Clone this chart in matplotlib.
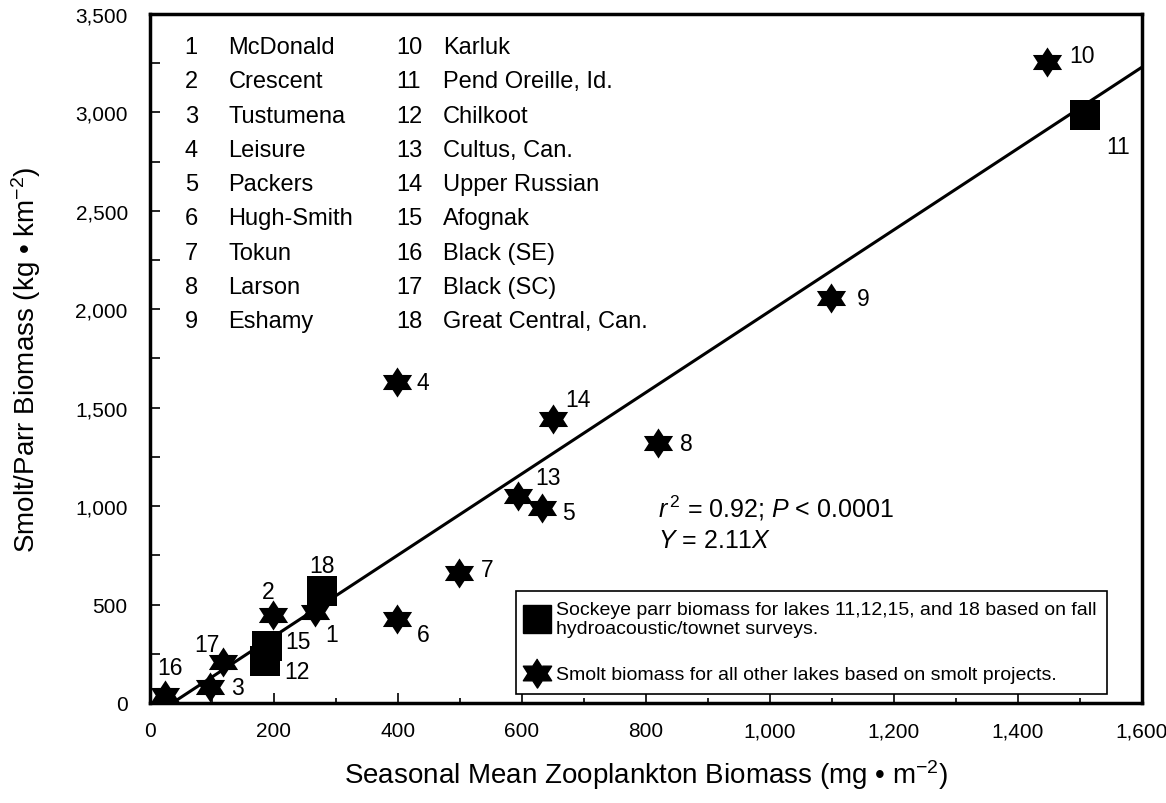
import numpy as np
import matplotlib
matplotlib.use("Agg")
import matplotlib.pyplot as plt
from matplotlib.lines import Line2D
from matplotlib.ticker import MultipleLocator, FuncFormatter

plt.rcParams["font.family"] = ["Liberation Sans", "DejaVu Sans"]
plt.rcParams["mathtext.fontset"] = "custom"
plt.rcParams["mathtext.rm"] = "Liberation Sans"
plt.rcParams["mathtext.it"] = "Liberation Sans:italic"

# lake data
lake_ids = list(range(1, 19))
lake_names = ["McDonald", "Crescent", "Tustumena", "Leisure", "Packers", "Hugh-Smith",
              "Tokun", "Larson", "Eshamy", "Karluk", "Pend Oreille, Id.", "Chilkoot",
              "Cultus, Can.", "Upper Russian", "Afognak", "Black (SE)", "Black (SC)",
              "Great Central, Can."]
zoop = [266, 198, 97, 398, 632, 398, 498, 820, 1098, 1447, 1508, 185, 594, 650, 189, 24, 118, 277]
smolt = [463, 448, 81, 1630, 992, 427, 661, 1320, 2055, 3255, 2985, 214, 1053, 1445, 290, 41, 209, 570]
parr_lakes = [11, 12, 15, 18]

# fitted line as drawn
fit_x = [36, 1600]
fit_y = [0, 3230]

# label offsets (pixels) for the point numbers
label_off = {1: (17, -23), 2: (-5, 23), 3: (27, 0), 4: (26, 0), 5: (27, -5), 6: (26, -16),
             7: (28, 3), 8: (28, 0), 9: (32, 0), 10: (35, 7), 11: (33, -31), 12: (32, -11),
             13: (30, 18), 14: (25, 19), 15: (31, 4), 16: (5, 27), 17: (-16, 17), 18: (0, 25)}

# six pointed star marker
ang = np.deg2rad(np.arange(12) * 30 + 90)
rad = np.where(np.arange(12) % 2 == 0, 1.0, 0.58)
star = np.column_stack([1.12 * rad * np.cos(ang), rad * np.sin(ang)])

fig = plt.figure(figsize=(11.66, 8.04), dpi=100)
ax = fig.add_axes([0.12864, 0.12438, 0.85077, 0.85697])

ax.plot(fit_x, fit_y, color="black", lw=2.2, zorder=2, solid_capstyle="butt")

is_parr = np.array([i in parr_lakes for i in lake_ids])
zx = np.array(zoop)
zy = np.array(smolt)
ax.scatter(zx[~is_parr], zy[~is_parr], marker=star, s=470, c="black", linewidths=0, zorder=3)
ax.scatter(zx[is_parr], zy[is_parr], marker="s", s=467, c="black", linewidths=0, zorder=3)

for i, x, y in zip(lake_ids, zoop, smolt):
    dx, dy = label_off[i]
    ax.annotate(str(i), (x, y), xytext=(dx, dy), textcoords="offset pixels",
                ha="center", va="center", fontsize=16.5)

# lake list
for k, (i, name) in enumerate(zip(lake_ids, lake_names)):
    col = k // 9
    row = k % 9
    yy = 0.952 - row * 0.0497
    xn = 0.035 if col == 0 else 0.248
    xt = 0.079 if col == 0 else 0.295
    ax.text(xn, yy, str(i), transform=ax.transAxes, fontsize=17, va="center", ha="left")
    ax.text(xt, yy, name, transform=ax.transAxes, fontsize=17, va="center", ha="left")

ax.text(0.512, 0.2845, r"$\mathit{r}^{\,2}$ = 0.92; $\mathit{P}$ < 0.0001", transform=ax.transAxes,
        fontsize=18, va="center", ha="left")
ax.text(0.512, 0.2366, r"$\mathit{Y}$ = 2.11$\mathit{X}$", transform=ax.transAxes,
        fontsize=18, va="center", ha="left")

handles = [Line2D([], [], marker="s", color="black", ls="none", markersize=20),
           Line2D([], [], marker=star, color="black", ls="none", markersize=21)]
labels = ["Sockeye parr biomass for lakes 11,12,15, and 18 based on fall\nhydroacoustic/townet surveys.",
          "Smolt biomass for all other lakes based on smolt projects."]
leg = ax.legend(handles, labels, loc="lower right", bbox_to_anchor=(0.965, 0.013),
                frameon=True, fancybox=False, edgecolor="black", framealpha=1,
                fontsize=14, handlelength=1.0, handletextpad=0.5, borderpad=0.55,
                labelspacing=1.5, borderaxespad=0)
leg.get_frame().set_linewidth(1.2)
for t in leg.get_texts():
    t.set_linespacing(1.1)

ax.set_xlim(0, 1600)
ax.set_ylim(0, 3500)
ax.xaxis.set_major_locator(MultipleLocator(200))
ax.xaxis.set_minor_locator(MultipleLocator(100))
ax.yaxis.set_major_locator(MultipleLocator(500))
ax.yaxis.set_minor_locator(MultipleLocator(250))
fmt = FuncFormatter(lambda v, p: f"{v:,.0f}")
ax.xaxis.set_major_formatter(fmt)
ax.yaxis.set_major_formatter(fmt)
ax.tick_params(which="both", direction="in", width=1.2, labelsize=15)
ax.xaxis.set_tick_params(which="major", length=7, pad=13)
ax.xaxis.set_tick_params(which="minor", length=3.5)
ax.yaxis.set_tick_params(which="both", length=7, pad=16)
for s in ax.spines.values():
    s.set_linewidth(2.5)

ax.set_xlabel("Seasonal Mean Zooplankton Biomass (mg • m$^{\\mathregular{-2}}$)", fontsize=20, labelpad=12)
ax.set_ylabel("Smolt/Parr Biomass (kg • km$^{\\mathregular{-2}}$)", fontsize=20, labelpad=23)

fig.savefig("out.png", dpi=100)
